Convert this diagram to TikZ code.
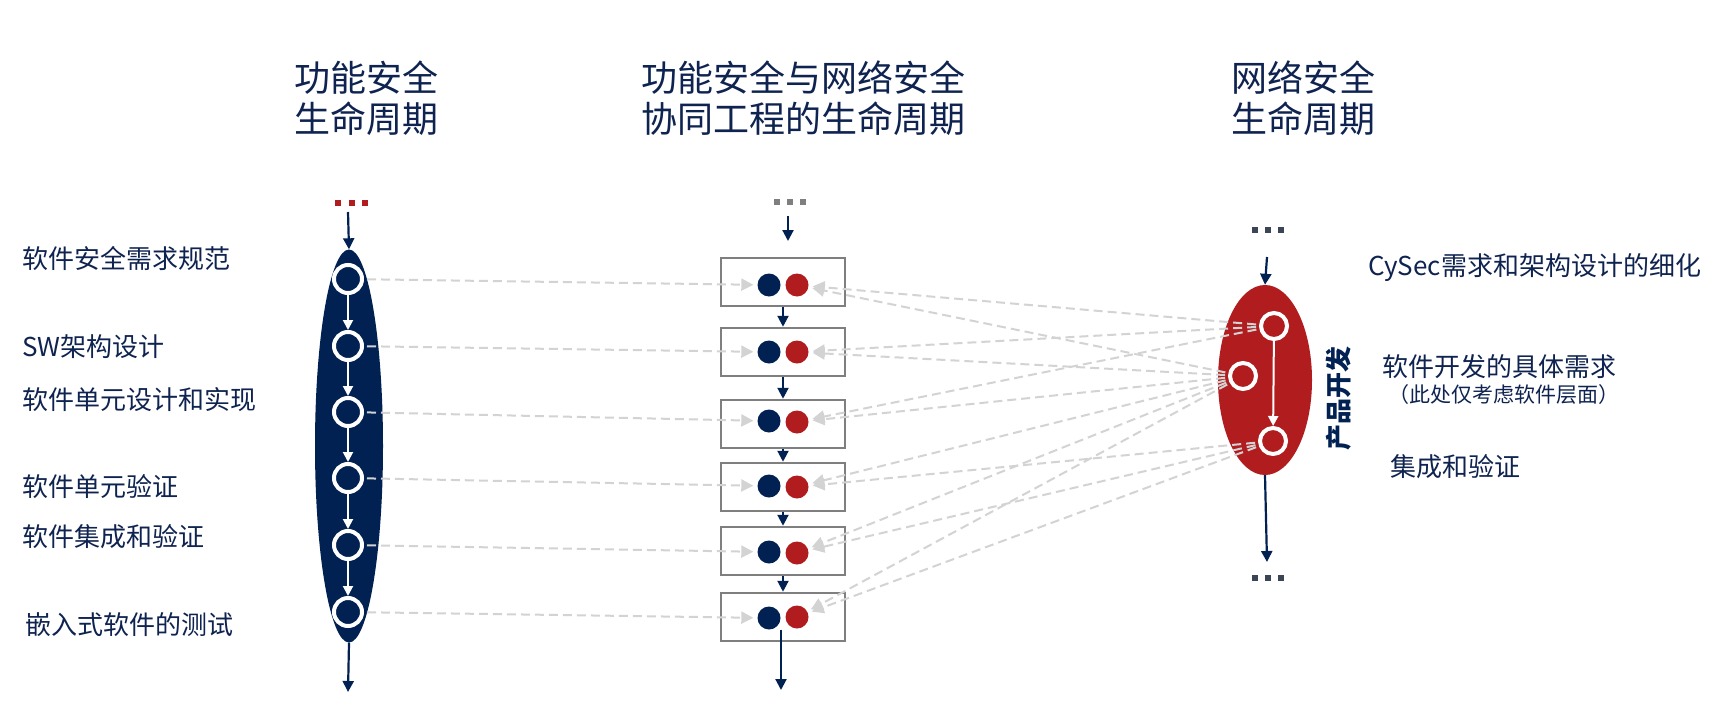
\documentclass[tikz,border=0pt]{standalone}
\usepackage{fontspec}
\newfontfamily\cjk{Noto Sans CJK SC}
\usepackage{tikz}
\usetikzlibrary{arrows.meta, positioning, shapes.geometric, calc}

\definecolor{navy}{HTML}{002152}
\definecolor{cred}{HTML}{B11C1E}
\definecolor{txtblue}{HTML}{0F2350}
\definecolor{dashgray}{HTML}{D3D3D3}
\definecolor{boxgray}{HTML}{7F7F7F}
\definecolor{dotgray}{HTML}{3B4556}

\tikzset{
  ttl/.style={font=\cjk\fontsize{36}{41}\selectfont, text=txtblue, align=center, inner sep=0},
  lbl/.style={font=\cjk\fontsize{26}{30}\selectfont, text=txtblue, anchor=west, inner sep=0},
  ring/.style={circle, fill=#1, draw=white, line width=4, minimum size=28, inner sep=0},
  mdot/.style={circle, fill=#1, minimum size=23, inner sep=0},
  mbox/.style={draw=boxgray, line width=2.5, fill=white, minimum width=124, minimum height=48, inner sep=0},
  flow/.style={-{Triangle[length=11,width=11]}, navy, line width=2.2},
  wflow/.style={-{Triangle[length=10,width=10]}, white, line width=2},
  link/.style={-{Triangle[length=12,width=12]}, dashgray, line width=2, dash pattern=on 9 off 5, shorten <=3, shorten >=4}
}

\begin{document}
\begin{tikzpicture}[x=1pt, y=-1pt]
\useasboundingbox (0,0) rectangle (1734,704);

% Functional safety lifecycle
\node[ttl] (ltitle) at (366,98) {功能安全\\生命周期};
\fill[cred] (335,200) rectangle (341,206);
\fill[cred] (349,200) rectangle (355,206);
\fill[cred] (362,200) rectangle (368,206);
\node[ellipse, fill=navy, minimum width=68, minimum height=393, inner sep=0] (lell) at (349,446) {};
\coordinate (ltop) at (348,212);
\coordinate (lend) at (348,692);
\draw[flow] (ltop) -- (lell.north);
\draw[flow] (lell.south) -- (lend);
\node[ring=navy] (l1) at (348,279) {};
\node[ring=navy] (l2) at (348,346) {};
\node[ring=navy] (l3) at (348,412) {};
\node[ring=navy] (l4) at (348,478) {};
\node[ring=navy] (l5) at (348,545) {};
\node[ring=navy] (l6) at (348,612) {};
\draw[wflow] (l1) -- (l2);
\draw[wflow] (l2) -- (l3);
\draw[wflow] (l3) -- (l4);
\draw[wflow] (l4) -- (l5);
\draw[wflow] (l5) -- (l6);
\node[lbl] (lt1) at (22,258) {软件安全需求规范};
\node[lbl] (lt2) at (22,347) {SW架构设计};
\node[lbl] (lt3) at (22,400) {软件单元设计和实现};
\node[lbl] (lt4) at (22,487) {软件单元验证};
\node[lbl] (lt5) at (22,537) {软件集成和验证};
\node[lbl] (lt6) at (25,625) {嵌入式软件的测试};

% Co-engineering lifecycle
\node[ttl] (mtitle) at (803,98) {功能安全与网络安全\\协同工程的生命周期};
\fill[boxgray] (774,199) rectangle (780,205);
\fill[boxgray] (787,199) rectangle (793,205);
\fill[boxgray] (800,199) rectangle (806,205);
\coordinate (mtop) at (788,216);
\coordinate (mtopend) at (788,241);
\draw[flow] (mtop) -- (mtopend);
\node[mbox] (m1) at (783,282) {};
\node[mbox] (m2) at (783,352) {};
\node[mbox] (m3) at (783,424) {};
\node[mbox] (m4) at (783,487) {};
\node[mbox] (m5) at (783,551) {};
\node[mbox] (m6) at (783,617) {};
\node[mdot=navy] (b1) at (769,285) {};
\node[mdot=cred] (c1) at (797,285) {};
\node[mdot=navy] (b2) at (769,352) {};
\node[mdot=cred] (c2) at (797,352) {};
\node[mdot=navy] (b3) at (769,421) {};
\node[mdot=cred] (c3) at (797,422) {};
\node[mdot=navy] (b4) at (769,486) {};
\node[mdot=cred] (c4) at (797,487) {};
\node[mdot=navy] (b5) at (769,552) {};
\node[mdot=cred] (c5) at (797,553) {};
\node[mdot=navy] (b6) at (769,618) {};
\node[mdot=cred] (c6) at (797,617) {};
\draw[flow] (m1) -- (m2);
\draw[flow] (m2) -- (m3);
\draw[flow] (m3) -- (m4);
\draw[flow] (m4) -- (m5);
\draw[flow] (m5) -- (m6);
\coordinate (mend) at (781,690);
\draw[flow] (b6.south -| mend) -- (mend);

% Cybersecurity lifecycle
\node[ttl] (rtitle) at (1303,98) {网络安全\\生命周期};
\fill[dotgray] (1252,227) rectangle (1258,233);
\fill[dotgray] (1265,227) rectangle (1271,233);
\fill[dotgray] (1278,227) rectangle (1284,233);
\fill[dotgray] (1252,575) rectangle (1258,581);
\fill[dotgray] (1265,575) rectangle (1271,581);
\fill[dotgray] (1278,575) rectangle (1284,581);
\node[ellipse, fill=cred, minimum width=94, minimum height=190, inner sep=0] (rell) at (1265,380) {};
\coordinate (rtop) at (1267,257);
\coordinate (rend) at (1267,562);
\draw[flow] (rtop) -- (rell.north);
\draw[flow] (rell.south) -- (rend);
\node[ring=cred, minimum size=26] (r1) at (1274,326) {};
\node[ring=cred, minimum size=26] (r2) at (1243,376) {};
\node[ring=cred, minimum size=26] (r3) at (1273,441) {};
\draw[wflow] (r1) -- (r3);
\node[rotate=90, font=\cjk\bfseries\fontsize{26}{30}\selectfont, text=navy, inner sep=0] (rvert) at (1339,398) {产品开发};
\node[lbl] (rt1) at (1368,268) {CySec需求和架构设计的细化};
\node[lbl] (rt2) at (1382,367) {软件开发的具体需求};
\node[lbl, font=\cjk\fontsize{21}{25}\selectfont] (rt3) at (1388,395) {（此处仅考虑软件层面）};
\node[lbl] (rt4) at (1390,467) {集成和验证};

% Mapping links
\draw[link] (l1) -- (b1);
\draw[link] (l2) -- (b2);
\draw[link] (l3) -- (b3);
\draw[link] (l4) -- (b4);
\draw[link] (l5) -- (b5);
\draw[link] (l6) -- (b6);
\draw[link] (r1) -- (c1);
\draw[link] (r2) -- (c1);
\draw[link] (r1) -- (c2);
\draw[link] (r2) -- (c2);
\draw[link] (r1) -- (c3);
\draw[link] (r2) -- (c3);
\draw[link] (r2) -- (c4);
\draw[link] (r3) -- (c4);
\draw[link] (r2) -- (c5);
\draw[link] (r3) -- (c5);
\draw[link] (r2) -- (c6);
\draw[link] (r3) -- (c6);
\end{tikzpicture}
\end{document}
